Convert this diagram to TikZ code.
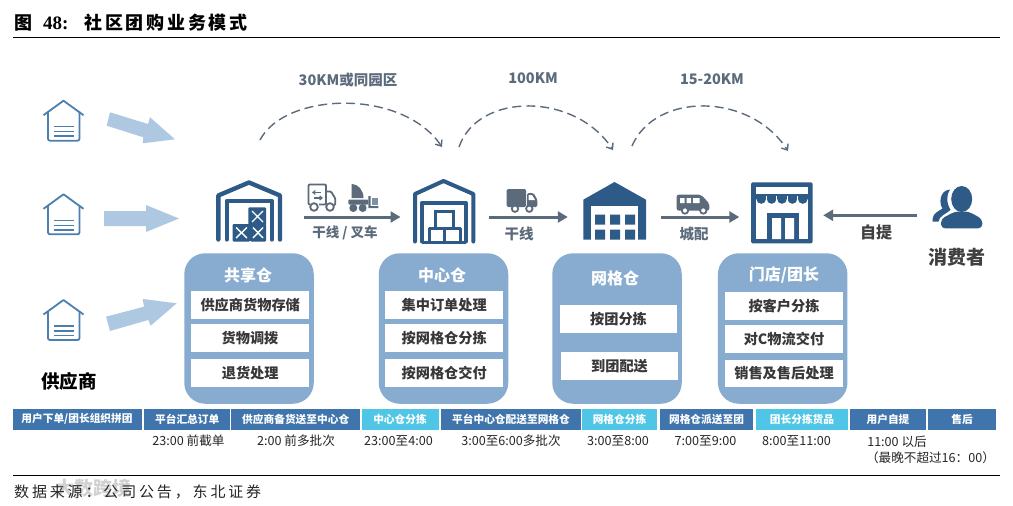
\documentclass[tikz,border=0pt]{standalone}
\usepackage{fontspec}
\setmainfont{Noto Sans CJK SC}
\newfontfamily\titlefont[LetterSpace=15]{Noto Sans CJK SC}
\newfontfamily\notefont[LetterSpace=19]{Noto Sans CJK SC}
\newfontfamily\digitfont{Liberation Serif}
\usepackage{tikz}
\usetikzlibrary{arrows.meta,calc,positioning}
\definecolor{iconblue}{HTML}{2E5A88}
\definecolor{flowgray}{HTML}{5C6B7C}
\definecolor{panelblue}{HTML}{88ABD0}
\definecolor{paleblue}{HTML}{AFC8E2}
\definecolor{linkblue}{HTML}{4A7FB0}
\definecolor{celldark}{HTML}{3F75AC}
\definecolor{cellcyan}{HTML}{4FC6E6}
\tikzset{
  iconspot/.style={minimum width=#1, minimum height=50pt, inner sep=0pt},
  flowarrow/.style={line width=3pt, flowgray, -{Triangle[length=10pt,width=11pt]}},
  hoparrow/.style={line width=1.4pt, flowgray, dash pattern=on 9pt off 5pt, -{Straight Barb[length=5pt,width=8pt]}},
  panelbox/.style={fill=panelblue, rounded corners=21pt, minimum width=129.5pt, minimum height=150.5pt, inner sep=0pt},
  panelhead/.style={text=white, font=\fontsize{16}{18}\selectfont\bfseries, inner sep=0pt},
  itembox/.style={fill=white, text=black!78, font=\fontsize{14.2}{16}\selectfont\bfseries, minimum width=117.5pt, minimum height=27.8pt, inner sep=0pt},
  celldarkbox/.style={fill=celldark, text=white, font=\fontsize{10.7}{12}\selectfont\bfseries, minimum height=21.5pt, inner sep=0pt},
  cellcyanbox/.style={celldarkbox, fill=cellcyan},
  timelabel/.style={text=black!85, font=\fontsize{12.6}{14}\selectfont, inner sep=0pt},
  routelabel/.style={text=flowgray, font=\fontsize{14.5}{16}\selectfont\bfseries, inner sep=0pt},
  pics/depot/.style={code={
    \draw[linkblue, line width=1.8pt, line join=round] (-20,14.5) -- (0,0) -- (20,14.5);
    \draw[linkblue, line width=1.8pt, rounded corners=2pt] (-15.5,11) -- (-15.5,40) -- (16,40) -- (16,11);
    \draw[linkblue, line width=1.5pt] (-10,26) -- (10,26) (-10,31) -- (10,31) (-10,35.5) -- (10,35.5);
  }}
}
\begin{document}
\begin{tikzpicture}[x=1pt,y=-1pt]
  \useasboundingbox (0,0) rectangle (1013,506);
  \fill[white] (0,0) rectangle (1013,506);
  % Title and the two rules
  \node[anchor=west, inner sep=0pt, font=\fontsize{18}{20}\selectfont\bfseries] (title) at (14,23)
    {\titlefont 图\hspace{11pt}{\digitfont\fontsize{19}{20}\selectfont 48:}\hspace{16pt}社区团购业务模式};
  \draw[line width=1pt] (13,37.5) -- (1000,37.5);
  \draw[line width=1pt] (13,475.5) -- (1000,475.5);
  % Footer, the watermark lies under it
  \node[anchor=west, inner sep=0pt, text=black!18, font=\fontsize{19}{21}\selectfont\bfseries] (mark) at (55,488) {大数跨境};
  \node[anchor=west, inner sep=0pt, text=black!85, font=\fontsize{15}{17}\selectfont] (source) at (14,492) {\notefont 数据来源：公司公告，东北证券};

  % Suppliers
  \pic at (63.5,100.7) {depot};
  \pic at (63.5,194.3) {depot};
  \pic at (63.5,300) {depot};
  \node[inner sep=0pt, font=\fontsize{18.5}{20}\selectfont\bfseries] (supplier) at (69,381) {供应商};
  % Pale arrows out of the suppliers
  \fill[paleblue] (110,112.3) -- (148,124) -- (150,117.3) -- (175,139.3) -- (142.7,143.3) -- (143.3,137.3) -- (106.7,125.7) -- cycle;
  \fill[paleblue] (104,211) -- (146,211) -- (146,205) -- (179,218.5) -- (146,232) -- (146,226) -- (104,226) -- cycle;
  \fill[paleblue] (106,316.7) -- (144,306.7) -- (142.7,299) -- (176.7,303.3) -- (150.7,325.7) -- (148.3,320) -- (110,331) -- cycle;

  % Spots of the four sites and the consumer
  \node[iconspot=66pt] (shared) at (249,217) {};
  \node[iconspot=62pt] (central) at (444,217) {};
  \node[iconspot=64pt] (grid) at (615,217) {};
  \node[iconspot=61.5pt] (store) at (781.75,217) {};
  \node[iconspot=53pt] (consumer) at (958.5,215.3) {};

  % Shared warehouse
  \draw[iconblue, line width=4.4pt, line join=round, line cap=round] (218.3,239.5) -- (218.3,195.5) -- (249,182.5) -- (280,195.5) -- (280,239.5);
  \draw[iconblue, line width=4.2pt, line join=round, line cap=round] (226.7,239.5) -- (226.7,201) -- (271.7,201) -- (271.7,239.5);
  \fill[iconblue, rounded corners=1pt] (232.7,224) rectangle (250,241.5);
  \fill[iconblue, rounded corners=1pt] (250,224) rectangle (266,241.5);
  \fill[iconblue, rounded corners=1pt] (248.3,207.3) rectangle (266,225);
  \draw[white, line width=1.4pt] (236,227.5) -- (247,238) (247,227.5) -- (236,238);
  \draw[white, line width=1.4pt] (253,227.5) -- (263,238) (263,227.5) -- (253,238);
  \draw[white, line width=1.4pt] (252,211) -- (263,222) (263,211) -- (252,222);

  % Central warehouse
  \draw[iconblue, line width=4pt, line join=round, line cap=round] (415,241.5) -- (415,194) -- (443.5,181) -- (473.3,194) -- (473.3,241.5);
  \draw[iconblue, line width=4pt, line join=round, line cap=round] (421.7,241.5) -- (421.7,203) -- (466,203) -- (466,241.5);
  \draw[iconblue, line width=3pt] (435,211) rectangle (453,228.5);
  \draw[iconblue, line width=3pt, line join=round] (429.5,242) -- (429.5,228.5) -- (460,228.5) -- (460,242) (444.7,228.5) -- (444.7,242) (421.7,242.3) -- (466,242.3);

  % Grid warehouse
  \fill[iconblue] (583.3,199.7) -- (614.5,182) -- (646,199.7) -- (646,239.7) -- (583.3,239.7) -- cycle;
  \fill[white] (590.7,206.3) rectangle (638.3,239.7);
  \fill[iconblue] (595,214.7) rectangle (605,224.7) (610,214.7) rectangle (620,224.7) (625,214.7) rectangle (635,224.7);
  \fill[iconblue] (595,229.7) rectangle (605,239.7) (610,229.7) rectangle (620,239.7) (625,229.7) rectangle (635,239.7);

  % Store
  \fill[iconblue, rounded corners=1.5pt] (751,182.3) rectangle (812.7,243.3);
  \fill[white] (756,187.3) rectangle (808,239);
  \fill[iconblue] (756,193.8) rectangle (808,199);
  \foreach \sx in {761.2,771.6,782,792.4,802.8}
    \fill[iconblue] (\sx,199) circle (4.8);
  \draw[white, line width=1.3pt] (766.4,196) -- (766.4,201) (776.8,196) -- (776.8,201) (787.2,196) -- (787.2,201) (797.6,196) -- (797.6,201);
  \fill[iconblue] (767,212.5) rectangle (799,239);
  \fill[white] (772,218) rectangle (781,239) (785,218) rectangle (794,239);

  % Consumer figure
  \fill[iconblue] (961.7,199) ellipse (10.5 and 13);
  \fill[iconblue, rounded corners=4pt] (941,228.3) -- (941,219) -- (955,211.5) -- (968.5,211.5) -- (982.3,219) -- (982.3,228.3) -- cycle;
  \fill[iconblue] (950,189.5) .. controls (939,190.5) and (939,204) .. (942.5,208.5) .. controls (939,211) and (933,213) .. (932.7,218.5) -- (932.7,221.5) -- (938.5,221.5) .. controls (939,216) and (946,214) .. (950.5,210) .. controls (946.5,203) and (946,195) .. (950,189.5) -- cycle;
  \node[inner sep=0pt, text=black!75, font=\fontsize{19}{21}\selectfont\bfseries] (consumertag) at (957,257) {消费者};

  % Outline truck above the first arrow
  \draw[flowgray, line width=1.8pt, line join=round, rounded corners=1pt] (310,204.5) -- (308.5,204.5) -- (308.5,184.5) -- (326,184.5) -- (326,204.5) -- (319,204.5);
  \draw[flowgray, line width=1.8pt, line join=round, rounded corners=1pt] (326,191.5) -- (331,191.5) -- (335.3,198.5) -- (335.3,205) -- (334.5,205);
  \draw[flowgray, line width=1.1pt, -{Straight Barb[length=2.5pt,width=4pt]}] (321,192.5) -- (312,192.5);
  \draw[flowgray, line width=1.1pt, -{Straight Barb[length=2.5pt,width=4pt]}] (314,198) -- (323,198);
  \draw[flowgray, line width=1.8pt, fill=white] (314,207) circle (3.8) (330,207) circle (3.8);
  % Forklift
  \fill[flowgray] (351.7,198) -- (351.7,184) .. controls (358,184) and (363.5,190) .. (363.5,198) -- cycle;
  \fill[flowgray, rounded corners=1pt] (348.3,199.5) rectangle (368.3,204.5);
  \fill[flowgray] (353.3,208) circle (4) (362.7,208) circle (4);
  \fill[flowgray] (368.3,196) rectangle (370.5,208) (368.3,206.2) rectangle (378.3,208);
  \fill[paleblue!40!flowgray] (371.7,198) rectangle (378.3,205);
  % Solid truck
  \fill[flowgray, rounded corners=1.5pt] (506.7,189) -- (526,189) -- (526,207) -- (506.7,207) -- cycle;
  \fill[flowgray, rounded corners=1.5pt] (527,193) -- (533.5,193) -- (537.3,199.5) -- (537.3,207) -- (527,207) -- cycle;
  \fill[white] (528.5,195) -- (532,195) -- (535,200) -- (528.5,200) -- cycle;
  \draw[flowgray, line width=1.8pt, fill=white] (515,208.7) circle (3.2) (529.3,208.7) circle (3.2);
  % Van
  \fill[flowgray, rounded corners=2pt] (676.7,194.7) -- (701,194.7) -- (709.3,203.5) -- (709.3,210.5) -- (676.7,210.5) -- cycle;
  \fill[white] (680,198) rectangle (684.5,203) (686.5,198) rectangle (691,203) (693,198) rectangle (699.5,203);
  \draw[flowgray, line width=1.8pt, fill=white] (685,210.5) circle (3.2) (703.3,210.5) circle (3.2);

  % Route arrows between the spots
  \draw[flowarrow, shorten <=22pt, shorten >=12.3pt] (shared) -- (central);
  \draw[flowarrow, shorten <=14pt, shorten >=15pt] (central) -- (grid);
  \draw[flowarrow, shorten <=14pt, shorten >=11.5pt] (grid) -- (store);
  \draw[flowarrow, shorten <=15pt, shorten >=10.5pt] (consumer.west) -- (consumer.west -| store.east);
  \node[routelabel, font=\fontsize{13.5}{16}\selectfont\bfseries] (lineAtag) at (345,233) {干线 / 叉车};
  \node[routelabel] (lineBtag) at (519,234) {干线};
  \node[routelabel] (lineCtag) at (694,234) {城配};
  \node[routelabel, text=black!75, font=\fontsize{16}{18}\selectfont\bfseries] (pickuptag) at (876,232) {自提};

  % Dashed hops and their distances
  \coordinate (hopAstart) at (260,140);
  \coordinate (hopAend) at (442,147);
  \coordinate (hopBstart) at (459,147);
  \coordinate (hopBend) at (613,150);
  \coordinate (hopCstart) at (632,146);
  \coordinate (hopCend) at (788,151);
  \draw[hoparrow] (hopAstart) .. controls (285,92) and (402,88) .. (hopAend);
  \draw[hoparrow] (hopBstart) .. controls (478,92) and (575,92) .. (hopBend);
  \draw[hoparrow] (hopCstart) .. controls (655,92) and (750,92) .. (hopCend);
  \node[routelabel] (hopAtag) at (348,80) {30KM或同园区};
  \node[routelabel] (hopBtag) at (533,78) {100KM};
  \node[routelabel] (hopCtag) at (712,79) {15-20KM};

  % Shared panel
  \node[panelbox] (sharedpanel) at (249,328.5) {};
  \node[panelhead] (sharedhead) at (248,275) {共享仓};
  \node[itembox] (storeitem) at (250.2,305) {供应商货物存储};
  \node[itembox] (dispatchitem) at (250,338.2) {货物调拨};
  \node[itembox] (returnitem) at (250.2,373) {退货处理};
  % Central panel
  \node[panelbox] (centralpanel) at (443.5,328.5) {};
  \node[panelhead] (centralhead) at (442,275) {中心仓};
  \node[itembox] (orderitem) at (444.2,305) {集中订单处理};
  \node[itembox] (sortitem) at (444.2,338.2) {按网格仓分拣};
  \node[itembox] (handitem) at (444.2,373) {按网格仓交付};
  % Grid panel
  \node[panelbox] (gridpanel) at (617,328.5) {};
  \node[panelhead] (gridhead) at (615,278) {网格仓};
  \node[itembox] (teamitem) at (618.5,319) {按团分拣};
  \node[itembox] (routeitem) at (619.5,366.2) {到团配送};
  % Store panel
  \node[panelbox] (storepanel) at (782.7,328.5) {};
  \node[panelhead] (storehead) at (784,275) {门店/团长};
  \node[itembox] (clientitem) at (784,306) {按客户分拣};
  \node[itembox] (cargoitem) at (784,339) {对C物流交付};
  \node[itembox] (serviceitem) at (784,373.5) {销售及售后处理};

  % Timeline strip
  \node[celldarkbox, minimum width=129pt] (cellA) at (77,419.3) {用户下单/团长组织拼团};
  \node[celldarkbox, minimum width=86pt] (cellB) at (187.2,419.3) {平台汇总订单};
  \node[celldarkbox, minimum width=128.5pt] (cellC) at (295.7,419.3) {供应商备货送至中心仓};
  \node[cellcyanbox, minimum width=77pt] (cellD) at (400,419.3) {中心仓分拣};
  \node[celldarkbox, minimum width=140pt] (cellE) at (511,419.3) {平台中心仓配送至网格仓};
  \node[cellcyanbox, minimum width=75pt] (cellF) at (619.5,419.3) {网格仓分拣};
  \node[celldarkbox, minimum width=93pt] (cellG) at (706.5,419.3) {网格仓派送至团};
  \node[cellcyanbox, minimum width=92pt] (cellH) at (802,419.3) {团长分拣货品};
  \node[celldarkbox, minimum width=76pt] (cellI) at (888,419.3) {用户自提};
  \node[celldarkbox, minimum width=68pt] (cellJ) at (962,419.3) {售后};
  % Times under the strip
  \node[timelabel] (timeB) at (188.5,441) {23:00 前截单};
  \node[timelabel] (timeC) at (296,441) {2:00 前多批次};
  \node[timelabel] (timeD) at (398.5,441) {23:00至4:00};
  \node[timelabel] (timeE) at (511,441) {3:00至6:00多批次};
  \node[timelabel] (timeF) at (618,441) {3:00至8:00};
  \node[timelabel] (timeG) at (705.5,441) {7:00至9:00};
  \node[timelabel] (timeH) at (796.5,441) {8:00至11:00};
  \node[timelabel] (timeI) at (897,442) {11:00 以后};
  \node[timelabel] (timeJ) at (930.5,458) {（最晚不超过16：00）};
\end{tikzpicture}
\end{document}
